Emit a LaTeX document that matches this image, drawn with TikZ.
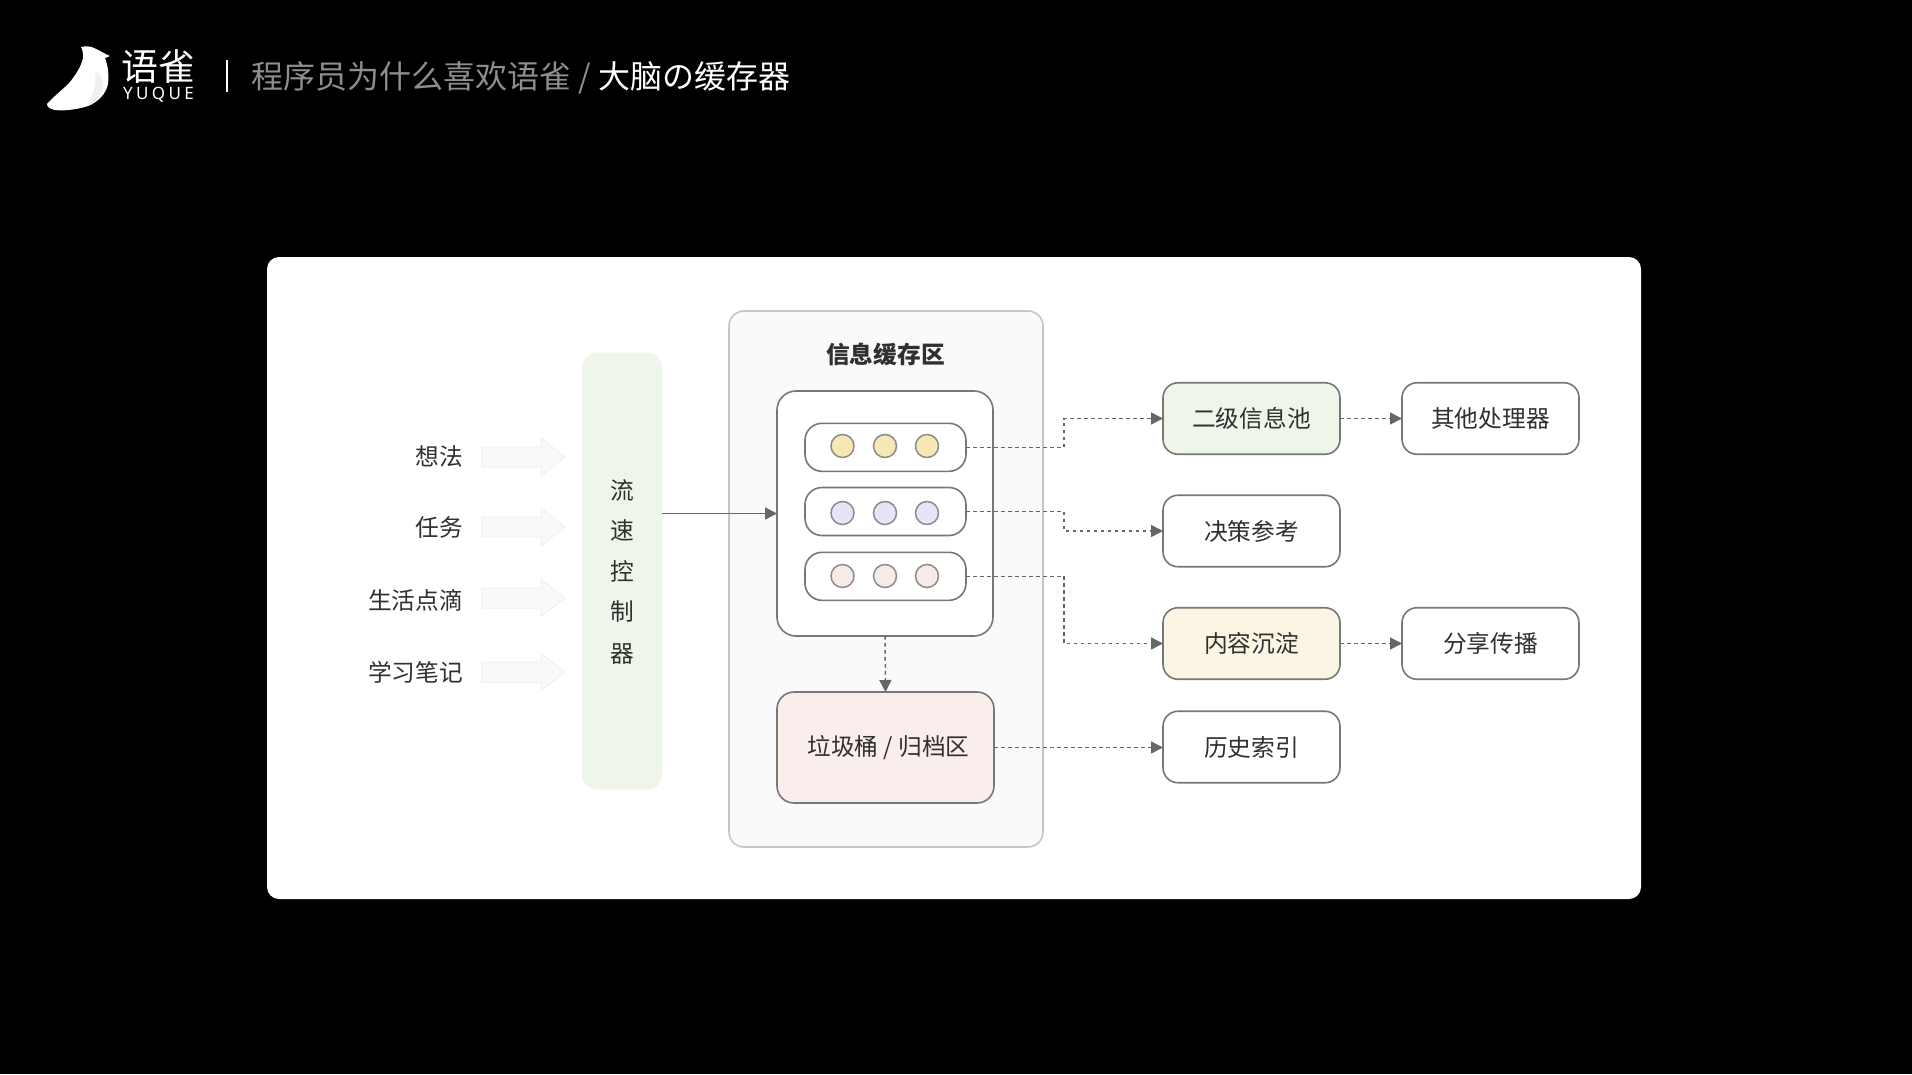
\documentclass[tikz,border=0pt]{standalone}
\usepackage{fontspec}
\setmainfont{Noto Sans CJK SC}
\newfontfamily\latinfont[LetterSpace=20]{Noto Sans}
\usetikzlibrary{arrows.meta,shapes.arrows}
\definecolor{edgegrey}{HTML}{777777}
\definecolor{linkgrey}{HTML}{666666}
\definecolor{inkgrey}{HTML}{303030}
\definecolor{panelfill}{HTML}{FAFAFA}
\definecolor{panelline}{HTML}{C6C6C6}
\definecolor{greenfill}{HTML}{EEF6E9}
\definecolor{yellowfill}{HTML}{FBF5E3}
\definecolor{pinkfill}{HTML}{FAEEEC}
\definecolor{dotyellow}{HTML}{F6E7B5}
\definecolor{dotpurple}{HTML}{E8E3F6}
\definecolor{dotpink}{HTML}{F8EAE6}
\definecolor{titlegrey}{HTML}{8E8E8E}
\tikzset{
  x=1pt,y=-1pt,
  boxbase/.style={rectangle,draw=edgegrey,line width=1.6pt,fill=white,inner sep=0pt,outer sep=0pt,text=inkgrey,font=\fontsize{23.7}{24}\selectfont,anchor=center},
  outbox/.style={boxbase,rounded corners=15pt,minimum width=177pt,minimum height=71.5pt},
  rowbox/.style={boxbase,rounded corners=17pt,minimum width=161pt,minimum height=48pt},
  dotnode/.style={circle,draw=edgegrey!85,line width=1.5pt,minimum size=23pt,inner sep=0pt},
  infeed/.style={single arrow,draw=black!6,fill=black!2.5,line width=1pt,minimum height=83pt,inner xsep=0pt,inner ysep=9.5pt,single arrow head extend=8.5pt,single arrow tip angle=76,outer sep=0pt},
  inlabel/.style={anchor=east,inner sep=0pt,text=inkgrey,font=\fontsize{23.7}{24}\selectfont},
  barlabel/.style={anchor=center,inner sep=0pt,text=inkgrey,font=\fontsize{23.7}{24}\selectfont},
  solidlink/.style={draw=linkgrey,line width=1.6pt,-{Triangle[length=12pt,width=12pt]}},
  dashlink/.style={draw=linkgrey,line width=1.5pt,dash pattern=on 3.5pt off 3.5pt,-{Triangle[length=12pt,width=12pt]}},
}
\begin{document}
\begin{tikzpicture}
\useasboundingbox (0,0) rectangle (1912,1074);
\fill[black] (0,0) rectangle (1912,1074);
% header
\fill[white] (47,104) .. controls (58,92) and (68,86) .. (73,78) .. controls (79,70) and (84,60) .. (83,54) .. controls (83,51) and (82,49) .. (81,47) .. controls (86,46) and (90,46) .. (94,48) .. controls (99,50) and (103,53) .. (110,56) -- (105,58) .. controls (108,66) and (109,74) .. (108,84) .. controls (106,94) and (98,102) .. (88,106) .. controls (76,110) and (62,111) .. (55,110) .. controls (50,109) and (47,107) .. (47,104) -- cycle;
\fill[black!6] (95,70) .. controls (103,75) and (105,85) .. (102,92) .. controls (100,98) and (94,103) .. (88,106) .. controls (93,95) and (97,82) .. (95,70) -- cycle;
\node[anchor=center,inner sep=0pt,text=white,font=\fontsize{37}{37}\selectfont] (logocn) at (158.5,67) {语雀};
\node[anchor=center,inner sep=0pt,text=white,font=\latinfont\fontsize{17}{17}\selectfont\bfseries] (logoen) at (158.5,95) {YUQUE};
\draw[white,line width=2pt] (227,60) -- (227,92);
\node[anchor=west,inner sep=0pt,font=\fontsize{32}{32}\selectfont] (headline) at (251.5,78) {\textcolor{titlegrey}{程序员为什么喜欢语雀 / }\textcolor{white}{大脑の缓存器}};
% card
\fill[white,rounded corners=12pt] (267,257) rectangle (1641,899);
% inputs
\node[infeed] (a1) at (517,457) {};
\node[infeed] (a2) at (517,527) {};
\node[infeed] (a3) at (517,598) {};
\node[infeed] (a4) at (517,672) {};
\node[inlabel] (l1) at (463,456) {想法};
\node[inlabel] (l2) at (463,527) {任务};
\node[inlabel] (l3) at (463,600) {生活点滴};
\node[inlabel] (l4) at (463,672) {学习笔记};
% flow controller
\node[rectangle,draw=greenfill!92!black!40,fill=greenfill,line width=1pt,rounded corners=14pt,minimum width=79pt,minimum height=436pt,inner sep=0pt,outer sep=0pt] (bar) at (622,571) {};
\node[barlabel] (b1) at (622,490) {流};
\node[barlabel] (b2) at (622,530) {速};
\node[barlabel] (b3) at (622,571) {控};
\node[barlabel] (b4) at (622,612) {制};
\node[barlabel] (b5) at (622,654) {器};
% buffer panel
\node[rectangle,draw=panelline,fill=panelfill,line width=1.6pt,rounded corners=15pt,minimum width=314pt,minimum height=536pt,inner sep=0pt,outer sep=0pt] (panel) at (886,579) {};
\node[anchor=center,inner sep=0pt,text=inkgrey,font=\fontsize{23.7}{24}\selectfont\bfseries] (ptitle) at (885.5,354) {信息缓存区};
\node[boxbase,rounded corners=19pt,minimum width=216pt,minimum height=245pt] (buf) at (885,513.5) {};
\node[rowbox] (r1) at (885.5,447.3) {};
\node[rowbox] (r2) at (885.5,511.5) {};
\node[rowbox] (r3) at (885.5,576.3) {};
\foreach \nm/\cx in {a/842.5,b/885,c/927}{
  \node[dotnode,fill=dotyellow] (d1\nm) at (\cx,446) {};
  \node[dotnode,fill=dotpurple] (d2\nm) at (\cx,513) {};
  \node[dotnode,fill=dotpink] (d3\nm) at (\cx,576) {};
}
\node[boxbase,fill=pinkfill,rounded corners=17pt,minimum width=217pt,minimum height=111pt] (trash) at (885.5,747.5) {\hspace*{6pt}垃圾桶 / 归档区};
% outputs
\node[outbox,fill=greenfill] (s1) at (1251.5,418.5) {二级信息池};
\node[outbox] (s2) at (1251.5,531) {决策参考};
\node[outbox,fill=yellowfill] (s3) at (1251.5,643.5) {内容沉淀};
\node[outbox] (s4) at (1251.5,747) {历史索引};
\node[outbox] (t1) at (1490.5,418.5) {其他处理器};
\node[outbox] (t3) at (1490.5,643.5) {分享传播};
% connectors
\coordinate (bend) at (1064,0);
\draw[solidlink] (bar.east |- buf.west) -- (buf.west);
\draw[dashlink] (r1.east) -- (r1.east -| bend) -- (bend |- s1.west) -- (s1.west);
\draw[dashlink] (r2.east) -- (r2.east -| bend) -- (bend |- s2.west) -- (s2.west);
\draw[dashlink] (r3.east) -- (r3.east -| bend) -- (bend |- s3.west) -- (s3.west);
\draw[dashlink] (trash.east) -- (trash.east -| s4.west);
\draw[dashlink] (s1.east) -- (t1.west);
\draw[dashlink] (s3.east) -- (t3.west);
\draw[dashlink] (buf.south) -- (trash.north);
\end{tikzpicture}
\end{document}
